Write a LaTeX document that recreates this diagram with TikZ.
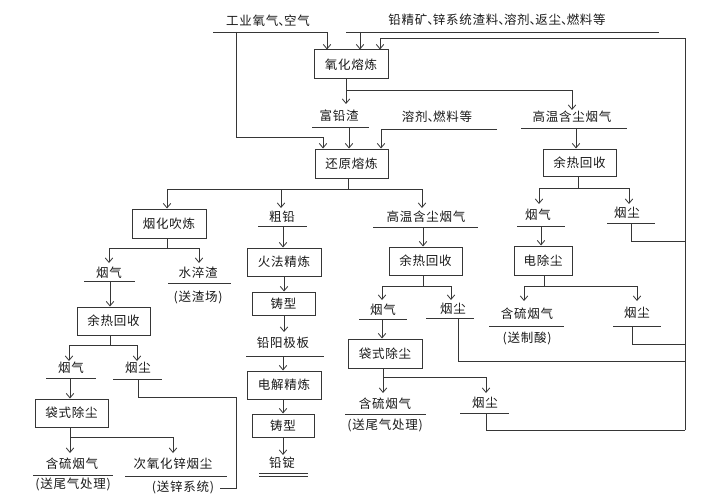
\documentclass[tikz,border=0pt]{standalone}
\usepackage{fontspec}
\newfontfamily\cjk[LetterSpace=6]{Noto Sans CJK SC}
\usetikzlibrary{arrows.meta}
\definecolor{lc}{HTML}{363636}
\definecolor{tc}{HTML}{1A1A1A}
\newcommand{\dn}{\makebox[0.45em][l]{、}}
\newcommand{\cjkf}{\cjk\fontsize{12.5}{14}\selectfont}
\begin{document}
\begin{tikzpicture}[x=1pt,y=-1pt,
 box/.style={draw=lc, line width=1pt, inner sep=0pt, font=\cjkf, text=tc},
 lbl/.style={font=\cjkf, text=tc, inner sep=0pt},
 ln/.style={draw=lc, line width=0.8pt},
 arr/.style={ln, -{Straight Barb[length=4.5pt,width=7.5pt,line width=0.8pt]}},
]
\fill[white] (0,0) rectangle (722,500);
\useasboundingbox (0,0) rectangle (722,500);

% ---------- boxes ----------
\node[box, minimum width=74pt, minimum height=29pt] (ox)  at (351,64.5)   {氧化熔炼};
\node[box, minimum width=73pt, minimum height=29pt] (hy)  at (351.5,163.5){还原熔炼};
\node[box, minimum width=73pt, minimum height=27pt] (yr1) at (579.5,162.5){余热回收};
\node[box, minimum width=74pt, minimum height=29pt] (yh)  at (169,223.5)  {烟化吹炼};
\node[box, minimum width=74pt, minimum height=28pt] (hf)  at (284,262)    {火法精炼};
\node[box, minimum width=63pt, minimum height=23pt] (zx1) at (283.5,303.5){铸型};
\node[box, minimum width=73pt, minimum height=28pt] (yr2) at (425.5,261)  {余热回收};
\node[box, minimum width=58pt, minimum height=29pt] (dc)  at (543,260.5)  {电除尘};
\node[box, minimum width=73pt, minimum height=28pt] (yr3) at (113.5,321)  {余热回收};
\node[box, minimum width=74pt, minimum height=29pt] (bd2) at (385,353.5)  {袋式除尘};
\node[box, minimum width=74pt, minimum height=28pt] (dj)  at (284,385)    {电解精炼};
\node[box, minimum width=73pt, minimum height=28pt] (bd1) at (71.5,413)   {袋式除尘};
\node[box, minimum width=62pt, minimum height=23pt] (zx2) at (283,425.5)  {铸型};

% ---------- labels ----------
\node[lbl] (t1) at (268,21) {工业氧气\dn 空气};
\node[lbl] (t2) at (497,20) {铅精矿\dn 锌系统渣料\dn 溶剂\dn 返尘\dn 燃料等};
\node[lbl] (fqz) at (339,116) {富铅渣};
\node[lbl] (rj)  at (437,117) {溶剂\dn 燃料等};
\node[lbl] (gwR) at (572,117) {高温含尘烟气};
\node[lbl] (cq)  at (282,217) {粗铅};
\node[lbl] (gwM) at (426,217) {高温含尘烟气};
\node[lbl] (yq1) at (109,273) {烟气};
\node[lbl] (scz) at (198,273) {水淬渣};
\node[lbl] (szc) at (198,297) {(送渣场)};
\node[lbl] (yqR) at (538,215) {烟气};
\node[lbl] (ycR) at (627,213) {烟尘};
\node[lbl] (yqM) at (383,310) {烟气};
\node[lbl] (ycM) at (453,309) {烟尘};
\node[lbl] (hlR) at (527,314) {含硫烟气};
\node[lbl] (szs) at (527,338) {(送制酸)};
\node[lbl] (ycRR) at (637,313) {烟尘};
\node[lbl] (yjb) at (283,343) {铅阳极板};
\node[lbl] (yqL) at (71,368) {烟气};
\node[lbl] (ycL) at (138,368) {烟尘};
\node[lbl] (hlM) at (385,404) {含硫烟气};
\node[lbl] (swM) at (385,425) {(送尾气处理)};
\node[lbl] (ycM2) at (485,403) {烟尘};
\node[lbl] (qd)  at (282,463) {铅锭};
\node[lbl] (hlL) at (72,464) {含硫烟气};
\node[lbl] (swL) at (73,484) {(送尾气处理)};
\node[lbl] (cyx) at (173,464) {次氧化锌烟尘};
\node[lbl] (sxt) at (183,487) {(送锌系统)};

% ---------- underlines ----------
\draw[ln] (346,32) -- (659,32);
\draw[ln] (312,127) -- (369,127);
\draw[ln] (521,128) -- (627,128);
\draw[ln] (258,226) -- (307,226);
\draw[ln] (373,227) -- (478,227);
\draw[ln] (84,281) -- (135,281);
\draw[ln] (168,283) -- (231,283);
\draw[ln] (517,226) -- (565,226);
\draw[ln] (607,223) -- (655,223);
\draw[ln] (359,319) -- (407,319);
\draw[ln] (426,318) -- (474,318);
\draw[ln] (489,326) -- (564,326);
\draw[ln] (613,326) -- (661,326);
\draw[ln] (246,356) -- (324,356);
\draw[ln] (46,378) -- (96,378);
\draw[ln] (113,379) -- (162,379);
\draw[ln] (345,414) -- (426,414);
\draw[ln] (460,413) -- (509,413);
\draw[ln] (33,475) -- (113,475);
\draw[ln] (125,476) -- (227,476);
\draw[ln] (259,473.5) -- (308,473.5);
\draw[ln] (259,476.5) -- (308,476.5);

% ---------- top inputs ----------
\draw[arr] (213,32) -| (ox.north -| 327,0);
\draw[arr] (236,32) -- (236,137) -| (hy.north -| 323,0);
\draw[arr] (360,32) -- (ox.north -| 360,0);
\draw[arr] (685,430) -- (685,38) -| (ox.north -| 380,0);

% ---------- oxidation smelting outputs ----------
\draw[arr] (ox.south -| 346,0) -- (346,104);
\draw[arr] (346,90) -| (572,110);
\draw[arr] (349,127) -- (hy.north -| 349,0);
\draw[arr] (497,129) -| (hy.north -| 381,0);

% ---------- right branch ----------
\draw[arr] (576,128) -- (yr1.north -| 576,0);
\draw[ln] (yr1.south -| 578,0) -- (578,188);
\draw[arr] (578,188) -| (539,204);
\draw[arr] (578,188) -| (629,204);
\draw[arr] (541,226) -- (dc.north -| 541,0);
\draw[ln] (631,223) |- (685,241);
\draw[ln] (dc.south -| 544,0) -- (544,286);
\draw[arr] (544,286) -| (524,301);
\draw[arr] (544,286) -| (637,301);
\draw[ln] (632,326) |- (685,344);

% ---------- reduction smelting outputs ----------
\draw[ln] (hy.south -| 348,0) -- (348,189);
\draw[arr] (348,189) -| (yh.north -| 167,0);
\draw[arr] (281,189) -- (281,208);
\draw[arr] (348,189) -| (422,208);

% ---------- crude lead ----------
\draw[arr] (283,226) -- (hf.north -| 283,0);
\draw[arr] (hf.south -| 284,0) -- (zx1.north -| 284,0);
\draw[arr] (zx1.south -| 284,0) -- (284,332);
\draw[arr] (283,356) -- (dj.north -| 283,0);
\draw[arr] (dj.south -| 283,0) -- (zx2.north -| 283,0);
\draw[arr] (zx2.south -| 283,0) -- (283,455);

% ---------- middle flue gas ----------
\draw[arr] (423,227) -- (yr2.north -| 423,0);
\draw[ln] (yr2.south -| 423,0) -- (423,286);
\draw[arr] (423,286) -| (382,300);
\draw[arr] (423,286) -| (451,300);
\draw[arr] (382,319) -- (bd2.north -| 382,0);
\draw[ln] (458,318) |- (685,361);
\draw[arr] (bd2.south -| 383,0) -- (383,393);
\draw[arr] (383,377) -| (486,393);
\draw[ln] (486,413) |- (685,430);

% ---------- fuming ----------
\draw[ln] (yh.south -| 167,0) -- (167,248);
\draw[arr] (167,248) -| (109,263);
\draw[arr] (167,248) -| (199,263);
\draw[arr] (110,281) -- (yr3.north -| 110,0);
\draw[ln] (yr3.south -| 110,0) -- (110,345);
\draw[arr] (110,345) -| (69,361);
\draw[arr] (110,345) -| (137,361);
\draw[arr] (70,378) -- (bd1.north -| 70,0);
\draw[ln] (138,379) |- (236,397) |- (220,488);
\draw[arr] (bd1.south -| 70,0) -- (70,453);
\draw[arr] (70,437) -| (173,453);
\end{tikzpicture}
\end{document}
